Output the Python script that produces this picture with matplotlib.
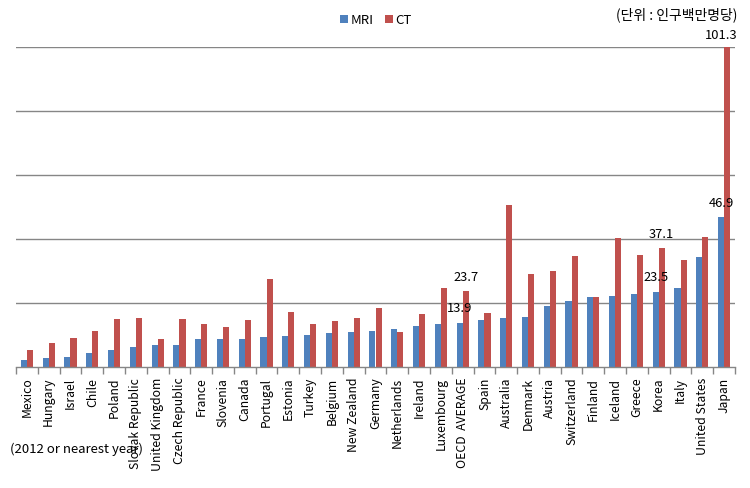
import matplotlib
matplotlib.use("Agg")
import matplotlib.pyplot as plt
import numpy as np

plt.rcParams['font.family'] = ['Noto Sans CJK KR', 'DejaVu Sans']

countries = ["Mexico", "Hungary", "Israel", "Chile", "Poland", "Slovak Republic",
             "United Kingdom", "Czech Republic", "France", "Slovenia", "Canada",
             "Portugal", "Estonia", "Turkey", "Belgium", "New Zealand", "Germany",
             "Netherlands", "Ireland", "Luxembourg", "OECD  AVERAGE", "Spain",
             "Australia", "Denmark", "Austria", "Switzerland", "Finland", "Iceland",
             "Greece", "Korea", "Italy", "United States", "Japan"]
mri = [2.3, 2.9, 3.2, 4.5, 5.4, 6.3, 7.0, 7.0, 8.8, 8.8, 8.8, 9.5, 9.8, 10.1,
       10.7, 11.0, 11.3, 12.0, 12.7, 13.3, 13.9, 14.8, 15.2, 15.5, 19.2, 20.7,
       21.8, 22.1, 22.9, 23.5, 24.6, 34.5, 46.9]
ct = [5.2, 7.6, 9.2, 11.3, 15.1, 15.4, 8.8, 15.1, 13.5, 12.6, 14.8, 27.6, 17.3,
      13.5, 14.5, 15.4, 18.5, 11.0, 16.7, 24.6, 23.7, 17.0, 50.5, 29.2, 29.9,
      34.6, 21.8, 40.4, 34.9, 37.1, 33.3, 40.7, 101.3]
labeled = ["OECD  AVERAGE", "Korea", "Japan"]
series_names = ["MRI", "CT"]
unit_text = "(단위 : 인구백만명당)"
note_text = "(2012 or nearest year)"

c_mri = "#4F81BD"
c_ct = "#C0504D"
grid_c = "#868686"

fig = plt.figure(figsize=(7.5, 4.89), dpi=100)
ax = fig.add_axes([16/750, 1-368/489, (735-16)/750, (368-48)/489])

x = np.arange(len(countries))
w = 0.28
ax.bar(x - w/2, mri, width=w, color=c_mri, label=series_names[0], zorder=3)
ax.bar(x + w/2, ct, width=w, color=c_ct, label=series_names[1], zorder=3)

ax.set_xlim(-0.5, len(countries) - 0.5)
ax.set_ylim(0, 100)
ax.set_yticks(np.arange(20, 101, 20))
ax.yaxis.grid(True, color=grid_c, linewidth=1.0, zorder=0)
ax.tick_params(axis='y', left=False, labelleft=False)

for s in ["left", "right", "top"]:
    ax.spines[s].set_visible(False)
ax.spines["bottom"].set_color(grid_c)
ax.spines["bottom"].set_linewidth(1.0)
ax.spines["bottom"].set_zorder(4)

ax.set_xticks(x)
ax.set_xticklabels(countries, rotation=90, fontsize=8.8, color="#000000")
ax.tick_params(axis='x', which='major', length=0, pad=7)
ax.set_xticks(np.arange(-0.5, len(countries), 1.0), minor=True)
ax.tick_params(axis='x', which='minor', length=5, color=grid_c, width=1.0)

lab_fs = 9.3
for name in labeled:
    i = countries.index(name)
    ax.annotate(f"{mri[i]:.1f}", xy=(i - w/2, mri[i]), xytext=(0, 6),
                textcoords="offset points", ha="center", va="bottom", fontsize=lab_fs)
    if ct[i] > 100:
        ax.annotate(f"{ct[i]:.1f}", xy=(i + w/2, 100), xytext=(-4, 4),
                    textcoords="offset points", ha="center", va="bottom",
                    fontsize=lab_fs, annotation_clip=False)
    else:
        ax.annotate(f"{ct[i]:.1f}", xy=(i + w/2, ct[i]), xytext=(0, 6),
                    textcoords="offset points", ha="center", va="bottom", fontsize=lab_fs)

leg = fig.legend(loc="center", bbox_to_anchor=(376/750, 1-21/489), ncol=2,
                 frameon=False, fontsize=9.5, handlelength=0.6, handleheight=0.6,
                 handletextpad=0.2, columnspacing=0.8)

fig.text(737/750, 1-15/489, unit_text, ha="right", va="center", fontsize=10)
fig.text(10/750, 1-449/489, note_text, ha="left", va="center", fontsize=9.5)

fig.savefig("out.png", dpi=100)
